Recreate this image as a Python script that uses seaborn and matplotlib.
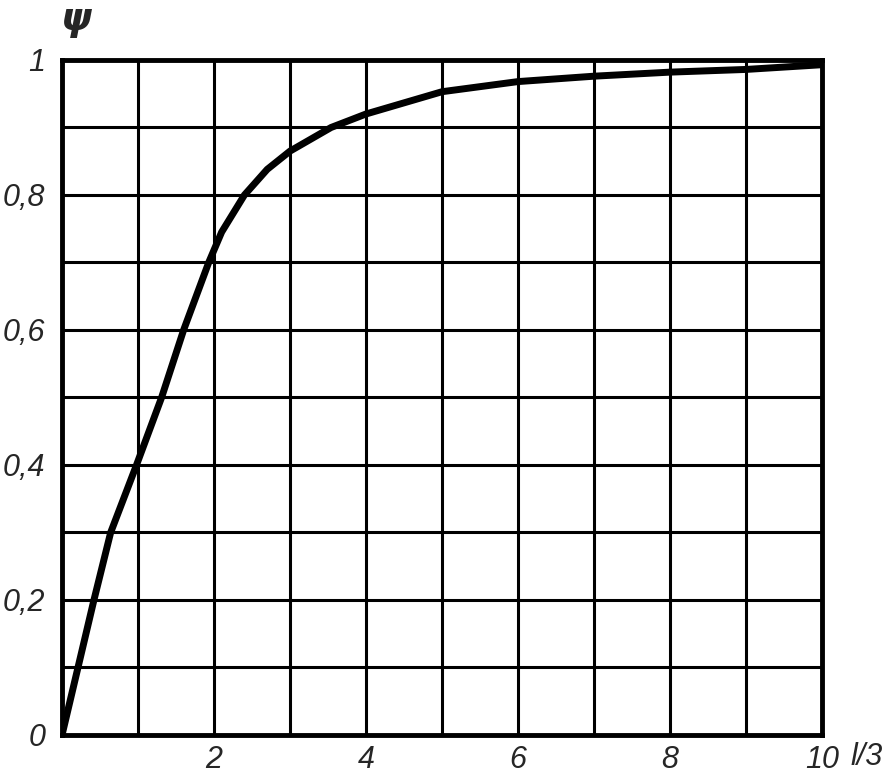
import numpy as np
import pandas as pd
import seaborn as sns
import matplotlib.pyplot as plt

# values
l_ratio = [0, 0.21, 0.42, 0.64, 0.98, 1.31, 1.6, 1.93, 2.1, 2.4, 2.7, 3.0, 3.54, 4, 5, 6, 7, 8, 9, 10]
psi = [0, 0.1, 0.2, 0.3, 0.4, 0.5, 0.6, 0.7, 0.745, 0.8, 0.838, 0.865, 0.9, 0.92, 0.953, 0.968, 0.976, 0.982, 0.986, 0.993]

x_ticks = list(range(11))
x_labels = ["", "", "2", "", "4", "", "6", "", "8", "", "10"]
y_ticks = [i / 10 for i in range(11)]
y_labels = ["0", "", "0,2", "", "0,4", "", "0,6", "", "0,8", "", "1"]

df = pd.DataFrame({"l": l_ratio, "psi": psi})

sns.set_style("white")
plt.rcParams["font.family"] = ["Liberation Sans", "DejaVu Sans"]

fig = plt.figure(figsize=(8.95, 7.8), dpi=100)
ax = fig.add_axes([0.0693, 0.0577, 0.8492, 0.8654])

sns.lineplot(data=df, x="l", y="psi", color="black", linewidth=5, ax=ax,
             solid_capstyle="round", solid_joinstyle="round", zorder=3)

ax.set_xlim(0, 10)
ax.set_ylim(0, 1)
ax.set_xticks(x_ticks)
ax.set_xticklabels(x_labels, fontsize=22, style="italic")
ax.set_yticks(y_ticks)
ax.set_yticklabels(y_labels, fontsize=22, style="italic")
ax.tick_params(axis="x", length=0, pad=7)
ax.tick_params(axis="y", length=0, pad=12)
ax.grid(True, color="black", linewidth=2.2)
ax.set_axisbelow(True)
for s in ax.spines.values():
    s.set_linewidth(3.5)
    s.set_color("black")
    s.set_zorder(4)
ax.set_xlabel("")
ax.set_ylabel("")

fig.text(0.085, 0.975, "ψ", fontsize=28, style="italic", ha="center", va="center",
         family=["DejaVu Sans"], fontweight="bold")
fig.text(0.968, 0.03, "l/3", fontsize=22, style="italic", ha="center", va="center")

plt.savefig("out.png", dpi=100)
